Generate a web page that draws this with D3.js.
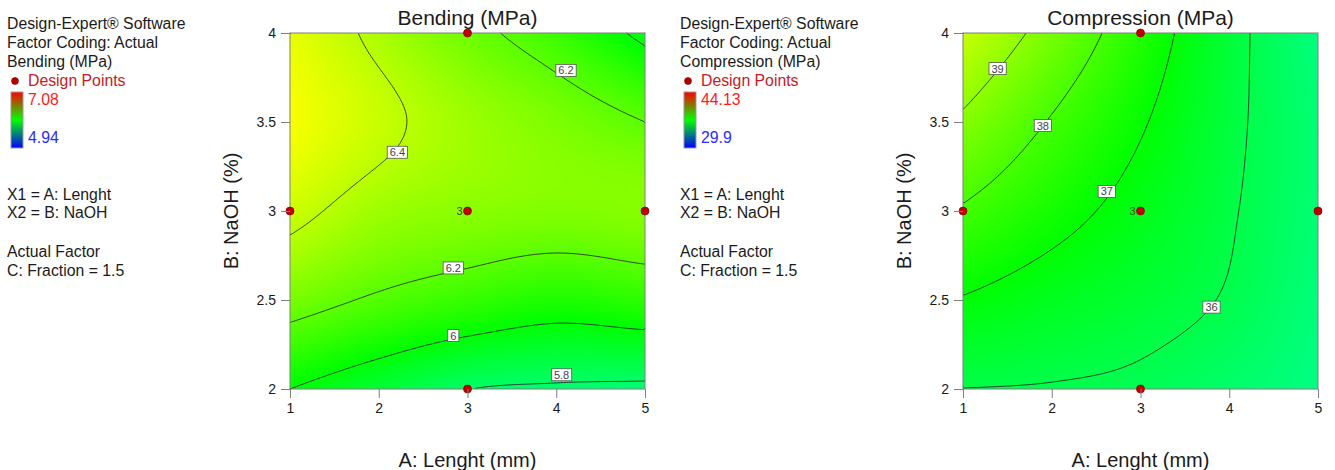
<!DOCTYPE html>
<html>
<head>
<meta charset="utf-8">
<script src="https://cdn.jsdelivr.net/npm/d3@7"></script>
<style>
  body { margin: 0; background: #fff; }
  text { font-family: "Liberation Sans", Arial, sans-serif; fill: #1a1a1a; }
</style>
</head>
<body>
<svg id="chart" width="1335" height="470"></svg>
<script>
// factor levels of the read-off grid (A: Lenght, B: NaOH)
var lengthLevels = [1, 2, 3, 4, 5];
var naohLevels = [2, 2.5, 3, 3.5, 4];

// response, rows = NaOH 2 -> 4, cols = Lenght 1 -> 5
var bendingGrid = [
    [6.00, 5.90, 5.802, 5.78, 5.77],
    [6.26, 6.18, 6.12, 6.07, 6.10],
    [6.44, 6.34, 6.30, 6.28, 6.29],
    [6.53, 6.43, 6.34, 6.27, 6.20],
    [6.50, 6.37, 6.24, 6.13, 5.965]
];
var compressionGrid = [
    [35.99, 35.95, 35.85, 35.55, 35.20],
    [36.95, 36.60, 36.30, 35.93, 35.30],
    [37.92, 37.30, 36.70, 36.07, 35.40],
    [38.87, 37.94, 37.08, 36.17, 35.40],
    [39.80, 38.67, 37.48, 36.25, 35.25]
];

var bendingLevels = [5.8, 6.0, 6.2, 6.4];
var compressionLevels = [36, 37, 38, 39];

// contour label anchors [level, A, B]
var bendingLabels = [[6.4, 2.21, 3.33], [6.2, 4.11, 3.79], [6.2, 2.84, 2.68], [6.0, 2.84, 2.3], [5.8, 4.06, 2.08]];
var compressionLabels = [[39, 1.39, 3.8], [38, 1.9, 3.48], [37, 2.62, 3.11], [36, 3.8, 2.46]];

// design points
var designA = [1, 3, 3, 5, 3];
var designB = [3, 4, 3, 3, 2];
var designReps = [1, 1, 3, 1, 1];

var xTicks = [1, 2, 3, 4, 5];
var yTicks = [2, 2.5, 3, 3.5, 4];

var svg = d3.select("#chart");

var plotW = 355, plotH = 356;

function cubic(p0, p1, p2, p3, t) {
    return p1 + 0.5 * t * (p2 - p0 + t * (2 * p0 - 5 * p1 + 4 * p2 - p3 + t * (3 * (p1 - p2) + p3 - p0)));
}

// smooth surface through the grid values (Catmull-Rom)
function makeSurface(grid) {
    var ia = d3.scaleLinear().domain(lengthLevels).range(d3.range(lengthLevels.length));
    var ib = d3.scaleLinear().domain(naohLevels).range(d3.range(naohLevels.length));
    var nr = grid.length, nc = grid[0].length;
    function g(r, c) {
        if (c < 0) return 2 * g(r, 0) - g(r, 1);
        if (c > nc - 1) return 2 * g(r, nc - 1) - g(r, nc - 2);
        if (r < 0) return 2 * g(0, c) - g(1, c);
        if (r > nr - 1) return 2 * g(nr - 1, c) - g(nr - 2, c);
        return grid[r][c];
    }
    return function (a, b) {
        var fx = ia(a), fy = ib(b);
        var c = Math.min(Math.floor(fx), nc - 2), r = Math.min(Math.floor(fy), nr - 2);
        var tx = fx - c, ty = fy - r;
        var rows = [];
        for (var k = -1; k <= 2; k++) {
            rows.push(cubic(g(r + k, c - 1), g(r + k, c), g(r + k, c + 1), g(r + k, c + 2), tx));
        }
        return cubic(rows[0], rows[1], rows[2], rows[3], ty);
    };
}

function isolines(geom, n, m) {
    var lines = [];
    geom.coordinates.forEach(function (poly) {
        poly.forEach(function (ring) {
            var cur = [];
            for (var k = 0; k < ring.length - 1; k++) {
                var p = ring[k], q = ring[k + 1];
                var edge = (p[0] === 0 && q[0] === 0) || (p[0] === n && q[0] === n) ||
                    (p[1] === 0 && q[1] === 0) || (p[1] === m && q[1] === m);
                if (edge) {
                    if (cur.length > 1) lines.push(cur);
                    cur = [];
                } else {
                    if (!cur.length) cur.push(p);
                    cur.push(q);
                }
            }
            if (cur.length > 1) lines.push(cur);
        });
    });
    return lines;
}

function drawPanel(cfg) {
    var ox = cfg.offset;
    var surface = makeSurface(cfg.grid);

    // ---- legend block
    var leg = svg.append("g").attr("transform", "translate(" + ox + ",0)");
    var lines = [
        [29, "Design-Expert\u00AE Software"],
        [48, "Factor Coding: Actual"],
        [67, cfg.name],
        [200, "X1 = A: Lenght"],
        [218, "X2 = B: NaOH"],
        [257, "Actual Factor"],
        [276, "C: Fraction = 1.5"]
    ];
    lines.forEach(function (l) {
        leg.append("text").attr("x", 7).attr("y", l[0]).style("font-size", "15.8px").text(l[1]);
    });
    leg.append("circle").attr("cx", 15).attr("cy", 81).attr("r", 3.5)
        .attr("fill", "#b00000").attr("stroke", "#7a0000").attr("stroke-width", 0.6);
    leg.append("text").attr("x", 28).attr("y", 86).style("font-size", "15.8px")
        .style("fill", "#c41a24").text("Design Points");
    leg.append("text").attr("x", 28).attr("y", 105).style("font-size", "15.8px")
        .style("fill", "#ff1a1a").text(cfg.max);
    leg.append("text").attr("x", 28).attr("y", 143).style("font-size", "15.8px")
        .style("fill", "#2a2aff").text(cfg.min);

    var gradId = "grad" + ox;
    var grad = svg.append("defs").append("linearGradient").attr("id", gradId)
        .attr("x1", 0).attr("y1", 0).attr("x2", 0).attr("y2", 1);
    grad.append("stop").attr("offset", "0%").attr("stop-color", "#ff0000");
    grad.append("stop").attr("offset", "50%").attr("stop-color", "#00ff00");
    grad.append("stop").attr("offset", "100%").attr("stop-color", "#0000ff");
    leg.append("rect").attr("x", 11).attr("y", 92).attr("width", 12).attr("height", 56)
        .attr("fill", "url(#" + gradId + ")").attr("stroke", "#999").attr("stroke-width", 1);

    // ---- plot
    var px0 = ox + 290, py0 = 33;
    var g = svg.append("g").attr("transform", "translate(" + px0 + "," + py0 + ")");

    var x = d3.scaleLinear().domain([1, 5]).range([0, plotW]);
    var y = d3.scaleLinear().domain([2, 4]).range([plotH, 0]);

    var lo = +cfg.min, hi = +cfg.max, span = hi - lo;
    var color = d3.scaleLinear()
        .domain([lo, lo + span * 0.25, lo + span * 0.5, lo + span * 0.75, hi])
        .range(["#0000ff", "#00ffff", "#00ff00", "#ffff00", "#ff0000"])
        .clamp(true);

    // filled surface
    var canvas = document.createElement("canvas");
    canvas.width = plotW; canvas.height = plotH;
    var ctx = canvas.getContext("2d");
    var img = ctx.createImageData(plotW, plotH);
    for (var j = 0; j < plotH; j++) {
        var b = y.invert(j + 0.5);
        for (var i = 0; i < plotW; i++) {
            var c = d3.rgb(color(surface(x.invert(i + 0.5), b)));
            var k = (j * plotW + i) * 4;
            img.data[k] = c.r; img.data[k + 1] = c.g; img.data[k + 2] = c.b; img.data[k + 3] = 255;
        }
    }
    ctx.putImageData(img, 0, 0);
    g.append("image").attr("width", plotW).attr("height", plotH)
        .attr("preserveAspectRatio", "none")
        .attr("href", canvas.toDataURL());

    // contour lines
    var n = 220, m = 220;
    var vals = new Array(n * m);
    for (var r = 0; r < m; r++) {
        var bb = y.invert((r + 0.5) * plotH / m);
        for (var q = 0; q < n; q++) {
            vals[r * n + q] = surface(x.invert((q + 0.5) * plotW / n), bb);
        }
    }
    var contours = d3.contours().size([n, m]).thresholds(cfg.levels)(vals);
    var line = d3.line()
        .x(function (d) { return d[0] * plotW / n; })
        .y(function (d) { return d[1] * plotH / m; });
    contours.forEach(function (ct) {
        isolines(ct, n, m).forEach(function (pl) {
            g.append("path").attr("d", line(pl)).attr("fill", "none")
                .attr("stroke", "#2b2b2b").attr("stroke-width", 0.9);
        });
    });

    // frame
    g.append("rect").attr("width", plotW).attr("height", plotH)
        .attr("fill", "none").attr("stroke", "#7f7f7f").attr("stroke-width", 1);

    // contour labels
    cfg.labels.forEach(function (lb) {
        var lg = g.append("g").attr("transform", "translate(" + x(lb[1]) + "," + y(lb[2]) + ")");
        var rect = lg.append("rect").attr("fill", "#fff").attr("stroke", "#555").attr("stroke-width", 0.8);
        var t = lg.append("text").attr("text-anchor", "middle").attr("y", 4)
            .style("font-size", "11px").style("fill", "#444").text(d3.format("")(lb[0]));
        var w = t.node().getComputedTextLength() + 5;
        rect.attr("x", -w / 2).attr("y", -6).attr("width", w).attr("height", 12);
    });

    // design points
    designA.forEach(function (a, idx) {
        g.append("circle").attr("cx", x(a)).attr("cy", y(designB[idx])).attr("r", 4)
            .attr("fill", "#c00000").attr("stroke", "#800000").attr("stroke-width", 0.7);
        if (designReps[idx] > 1) {
            g.append("text").attr("x", x(a) - 5).attr("y", y(designB[idx]) + 4)
                .attr("text-anchor", "end").style("font-size", "11px").style("fill", "#3f4a10")
                .text(designReps[idx]);
        }
    });

    // axes
    var xAxis = g.append("g").attr("transform", "translate(0," + plotH + ")")
        .call(d3.axisBottom(x).tickValues(xTicks).tickSize(9).tickPadding(5).tickFormat(d3.format("")));
    var yAxis = g.append("g")
        .call(d3.axisLeft(y).tickValues(yTicks).tickSize(9).tickPadding(5).tickFormat(d3.format("")));
    [xAxis, yAxis].forEach(function (ax) {
        ax.select(".domain").remove();
        ax.selectAll(".tick line").attr("stroke", "#7f7f7f");
        ax.selectAll(".tick text").style("font-size", "14px").style("font-family", "Liberation Sans, Arial, sans-serif").attr("fill", "#1a1a1a");
    });

    // titles
    svg.append("text").attr("x", px0 + plotW / 2).attr("y", 25).attr("text-anchor", "middle")
        .style("font-size", "21px").text(cfg.name);
    svg.append("text").attr("x", px0 + plotW / 2).attr("y", 467).attr("text-anchor", "middle")
        .style("font-size", "20px").text("A: Lenght (mm)");
    svg.append("text").attr("transform", "translate(" + (px0 - 52) + "," + (py0 + plotH / 2) + ") rotate(-90)")
        .attr("text-anchor", "middle").style("font-size", "20px").text("B: NaOH (%)");
}

drawPanel({
    offset: 0, name: "Bending (MPa)", grid: bendingGrid, levels: bendingLevels,
    labels: bendingLabels, max: "7.08", min: "4.94"
});
drawPanel({
    offset: 673, name: "Compression (MPa)", grid: compressionGrid, levels: compressionLevels,
    labels: compressionLabels, max: "44.13", min: "29.9"
});
</script>
</body>
</html>
